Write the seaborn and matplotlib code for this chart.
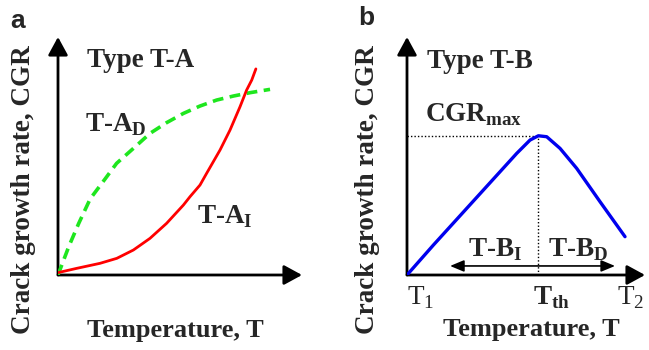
import matplotlib
matplotlib.use("Agg")
import matplotlib.pyplot as plt
import seaborn as sns
import pandas as pd
import numpy as np

# ---- data (normalised temperature / crack growth rate, read from the schematic) ----
T_a_D = [0.0, 0.044, 0.085, 0.132, 0.194, 0.240, 0.309, 0.377, 0.445, 0.514, 0.582,
         0.650, 0.719, 0.787, 0.869]
CGR_a_D = [0.0, 0.119, 0.217, 0.320, 0.405, 0.469, 0.532, 0.595, 0.640, 0.679, 0.710,
           0.735, 0.752, 0.766, 0.780]
T_a_I = [0.0, 0.077, 0.172, 0.241, 0.309, 0.377, 0.445, 0.514, 0.541, 0.582, 0.609,
         0.664, 0.705, 0.746, 0.773, 0.794, 0.811]
CGR_a_I = [0.010, 0.028, 0.049, 0.070, 0.105, 0.154, 0.217, 0.294, 0.329, 0.378, 0.427,
           0.525, 0.609, 0.707, 0.777, 0.819, 0.866]
T_b = [0.0, 0.111, 0.251, 0.391, 0.461, 0.517, 0.552, 0.587, 0.643, 0.713, 0.811, 0.916]
CGR_b = [0.0, 0.126, 0.280, 0.434, 0.511, 0.567, 0.585, 0.581, 0.532, 0.448, 0.308, 0.161]
range_b = [0.181, 0.874]   # extent of the double arrow (T-B_I / T-B_D)
range_y = 0.038

sns.set_theme(style="white")
plt.rcParams["font.family"] = ["Liberation Serif", "DejaVu Serif"]

fig = plt.figure(figsize=(6.49, 3.5), dpi=100)
axA = fig.add_axes([58 / 649, 75 / 350, 244 / 649, 238 / 350])
axB = fig.add_axes([407 / 649, 75 / 350, 238 / 649, 238 / 350])

SER = dict(family="Liberation Serif", fontweight="bold")
FS = 19.5


def setup(ax):
    ax.set_xlim(0, 1)
    ax.set_ylim(0, 1)
    for s in ax.spines.values():
        s.set_visible(False)
    ax.set_xticks([])
    ax.set_yticks([])
    ax.set_xlabel("")
    ax.set_ylabel("")
    ax.patch.set_alpha(0)
    ap = dict(arrowstyle="-|>,head_length=0.55,head_width=0.3", lw=2.0, color="black",
              mutation_scale=20, shrinkA=0, shrinkB=0)
    ax.annotate("", xy=(1, 0), xytext=(0, 0), xycoords="axes fraction",
                textcoords="axes fraction", arrowprops=ap, annotation_clip=False)
    ax.annotate("", xy=(0, 1), xytext=(0, 0), xycoords="axes fraction",
                textcoords="axes fraction", arrowprops=ap, annotation_clip=False)


# ---- panel a ----
dfD = pd.DataFrame({"T": T_a_D, "CGR": CGR_a_D})
dfI = pd.DataFrame({"T": T_a_I, "CGR": CGR_a_I})
sns.lineplot(data=dfD, x="T", y="CGR", ax=axA, color="#1ee61e", lw=2.6,
             sort=False, estimator=None, zorder=5)
axA.lines[-1].set_dashes((3.0, 1.8))
sns.lineplot(data=dfI, x="T", y="CGR", ax=axA, color="#ff0000", lw=2.0,
             sort=False, estimator=None, zorder=6)
axA.lines[-1].set_solid_joinstyle("round")
setup(axA)

axA.text(0.119, 0.874, "Type T-A", fontsize=FS, ha="left", va="baseline", **SER)
axA.text(0.111, 0.601, r"T-A$_\mathregular{D}$", fontsize=FS, ha="left", va="baseline", **SER)
axA.text(0.570, 0.218, r"T-A$_\mathregular{I}$", fontsize=FS, ha="left", va="baseline", **SER)
axA.text(0.48, -0.26, "Temperature, T", fontsize=19, ha="center", va="baseline",
         transform=axA.transAxes, **SER)
axA.text(-0.143, 0.357, "Crack growth rate, CGR", fontsize=19.5, rotation=90,
         ha="center", va="center", **SER)

# ---- panel b ----
dfB = pd.DataFrame({"T": T_b, "CGR": CGR_b})
sns.lineplot(data=dfB, x="T", y="CGR", ax=axB, color="#0000ee", lw=2.4,
             sort=False, estimator=None, zorder=6)
axB.lines[-1].set_solid_joinstyle("round")
axB.lines[-1].set_solid_capstyle("round")
setup(axB)

imax = int(np.argmax(CGR_b))
Tth, Cmax = T_b[imax], CGR_b[imax]
axB.plot([0, Tth], [Cmax, Cmax], color="black", lw=1.0, ls=(0, (1, 1.5)), zorder=4)
axB.plot([Tth, Tth], [0, Cmax], color="black", lw=1.0, ls=(0, (1, 1.5)), zorder=4)
axB.annotate("", xy=(range_b[1], range_y), xytext=(range_b[0], range_y),
             arrowprops=dict(arrowstyle="<|-|>,head_length=0.6,head_width=0.25",
                             lw=1.2, color="black", mutation_scale=14,
                             shrinkA=0, shrinkB=0))

axB.text(0.084, 0.870, "Type T-B", fontsize=FS, ha="left", va="baseline", **SER)
axB.text(0.076, 0.643, r"CGR$_\mathregular{max}$", fontsize=FS, ha="left", va="baseline", **SER)
axB.text(0.256, 0.076, r"T-B$_\mathregular{I}$", fontsize=FS, ha="left", va="baseline", **SER)
axB.text(0.592, 0.076, r"T-B$_\mathregular{D}$", fontsize=FS, ha="left", va="baseline", **SER)
axB.text(0.0, -0.126, r"T$_\mathregular{1}$", fontsize=FS, ha="left", va="baseline",
         family="Liberation Serif", fontweight="normal")
axB.text(Tth - 0.023, -0.126, r"T$_\mathregular{th}$", fontsize=FS, ha="left", va="baseline", **SER)
axB.text(0.882, -0.126, r"T$_\mathregular{2}$", fontsize=FS, ha="left", va="baseline",
         family="Liberation Serif", fontweight="normal")
axB.text(0.521, -0.256, "Temperature, T", fontsize=19, ha="center", va="baseline",
         transform=axB.transAxes, **SER)
axB.text(-0.168, 0.357, "Crack growth rate, CGR", fontsize=19.5, rotation=90,
         ha="center", va="center", **SER)

# panel letters
fig.text(10 / 649, 1 - 28 / 350, "a", fontsize=19, family="Liberation Sans",
         fontweight="bold", ha="left", va="baseline")
fig.text(358 / 649, 1 - 25 / 350, "b", fontsize=19, family="Liberation Sans",
         fontweight="bold", ha="left", va="baseline")

fig.savefig("out.png", dpi=100)
